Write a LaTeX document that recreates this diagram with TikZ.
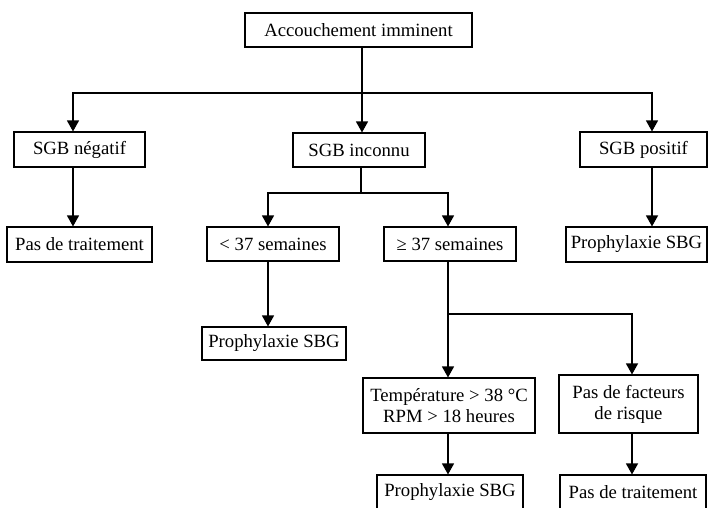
\documentclass[tikz,border=0pt]{standalone}
\usepackage{fontspec}
\setmainfont{Liberation Serif}
\usetikzlibrary{arrows.meta}
\begin{document}
\begin{tikzpicture}[x=1pt,y=-1pt,
  box/.style={draw, line width=1.1pt, inner sep=0pt, align=center,
    font=\fontsize{18.7}{21}\selectfont},
  link/.style={line width=1.2pt},
  arr/.style={link, -{Triangle[width=12pt,length=11pt]}}]
\useasboundingbox (0,0) rectangle (709,507);
\clip (0,0) rectangle (709,507);
\fill[white] (0,0) rectangle (709,507);

% boxes (centre, width, height)
\node[box, minimum width=227pt, minimum height=34pt] (top)  at (358.5,30)   {Accouchement imminent};
\node[box, minimum width=131pt, minimum height=35pt] (neg)  at (79.5,149.5) {SGB négatif};
\node[box, minimum width=132pt, minimum height=34pt] (inc)  at (359,150)    {SGB inconnu};
\node[box, minimum width=127pt, minimum height=35pt] (pos)  at (643.5,149.5){SGB positif};
\node[box, minimum width=145pt, minimum height=35pt] (none1) at (79.5,244.5) {Pas de traitement};
\node[box, minimum width=132pt, minimum height=34pt] (lt)   at (273,244)    {< 37 semaines};
\node[box, minimum width=132pt, minimum height=34pt] (ge)   at (450,244)    {≥ 37 semaines};
\node[box, minimum width=141pt, minimum height=35pt] (proR) at (636.5,244.5){Prophylaxie SBG};
\node[box, minimum width=144pt, minimum height=33pt] (proL) at (274,343.5)  {Prophylaxie SBG};
\node[box, minimum width=172pt, minimum height=55pt] (temp) at (449,405.5)  {Température > 38 °C\\RPM > 18 heures};
\node[box, minimum width=139pt, minimum height=58pt] (risk) at (628.5,404)  {Pas de facteurs\\de risque};
\node[box, minimum width=146pt, minimum height=35pt] (proB) at (450,492.5)  {Prophylaxie SBG};
\node[box, minimum width=146pt, minimum height=35pt] (none2) at (633,492.5) {Pas de traitement};

% junction points of the branching lines
\coordinate (j1) at (362,93);
\coordinate (j2) at (361,193);
\coordinate (j3) at (448,314);
\coordinate (xneg) at (73,0);
\coordinate (xpos) at (652,0);
\coordinate (xlt) at (268,0);
\coordinate (xge) at (448,0);
\coordinate (xrisk) at (632,0);

% first level
\draw[link] (j1 |- top.south) -- (j1);
\draw[arr] (j1) -| (xneg |- neg.north);
\draw[arr] (j1) -| (xpos |- pos.north);
\draw[arr] (j1) -- (j1 |- inc.north);
\draw[arr] (xneg |- neg.south) -- (xneg |- none1.north);
\draw[arr] (xpos |- pos.south) -- (xpos |- proR.north);

% unknown status
\draw[link] (j2 |- inc.south) -- (j2);
\draw[arr] (j2) -| (xlt |- lt.north);
\draw[arr] (j2) -| (xge |- ge.north);
\draw[arr] (xlt |- lt.south) -- (xlt |- proL.north);

% term >= 37 weeks
\draw[arr] (xge |- ge.south) -- (xge |- temp.north);
\draw[arr] (j3) -| (xrisk |- risk.north);
\draw[arr] (xge |- temp.south) -- (xge |- proB.north);
\draw[arr] (xrisk |- risk.south) -- (xrisk |- none2.north);
\end{tikzpicture}
\end{document}
